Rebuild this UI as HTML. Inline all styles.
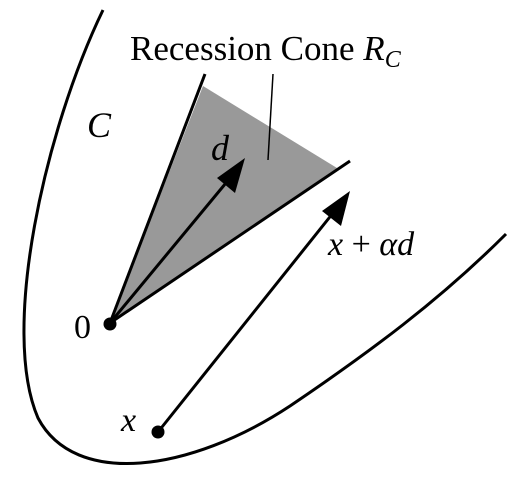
<!DOCTYPE html>
<html><head><meta charset="utf-8"><style>
html,body{margin:0;padding:0;background:#fff;width:520px;height:480px;overflow:hidden}
svg text{font-family:"Liberation Serif","DejaVu Serif",serif;fill:#000}
</style></head><body>
<svg width="520" height="480" viewBox="0 0 520 480" font-family="'Liberation Serif', 'DejaVu Serif', serif">
<path d="M103,10 C45,130 0,330 38,418 C75,488 190,472 290,406 C370,352 440,300 506,234" fill="none" stroke="#000" stroke-width="3"/>
<polygon points="110,323 203,86 337,168" fill="#999"/>
<line x1="110" y1="323" x2="205" y2="74" stroke="#000" stroke-width="3"/>
<line x1="110" y1="323" x2="350" y2="161" stroke="#000" stroke-width="3"/>
<line x1="273" y1="74" x2="268" y2="160" stroke="#000" stroke-width="1.5"/>
<line x1="110" y1="323" x2="240" y2="166" stroke="#000" stroke-width="3"/>
<path d="M245,158 L235,193 L217,178 z" fill="#000"/>
<line x1="158" y1="432" x2="345" y2="198" stroke="#000" stroke-width="3"/>
<path d="M350,191 L341,226 L322,211 z" fill="#000"/>
<circle cx="110" cy="324" r="6.5" fill="#000"/>
<circle cx="158" cy="432" r="6.5" fill="#000"/>
<text x="130" y="60" font-size="35">Recession Cone <tspan font-style="italic">R</tspan><tspan font-style="italic" font-size="24" dy="7">C</tspan></text>
<text x="87" y="137" font-size="36" font-style="italic">C</text>
<text x="211" y="160" font-size="36" font-style="italic">d</text>
<text x="328" y="255" font-size="34"><tspan font-style="italic">x</tspan> + <tspan font-style="italic">αd</tspan></text>
<text x="74" y="338" font-size="34">0</text>
<text x="121" y="431" font-size="34" font-style="italic">x</text>
</svg>
</body></html>
